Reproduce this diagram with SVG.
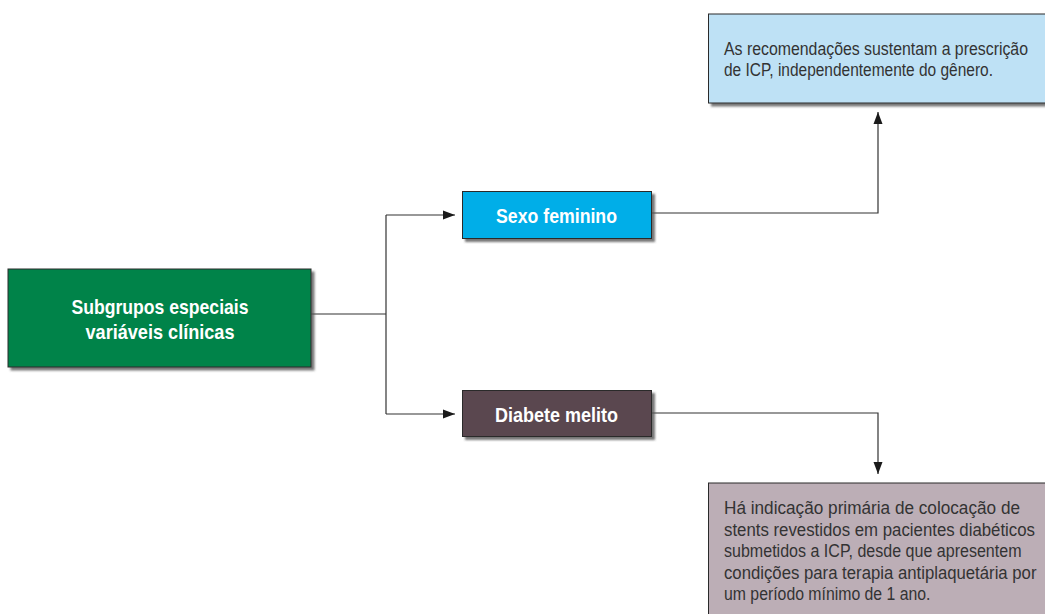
<svg xmlns="http://www.w3.org/2000/svg" width="1045" height="614" viewBox="0 0 1045 614">
<style>
.box{stroke:#2b2b2b;stroke-width:1;filter:url(#sh)}
.title{font-family:"Liberation Sans",Arial,sans-serif;font-weight:bold;font-size:21px;fill:#ffffff;text-anchor:middle}
.body{font-family:"Liberation Sans",Arial,sans-serif;font-size:17.5px;fill:#333333}
.conn{fill:none;stroke:#333333;stroke-width:1.2}
</style>
<defs>
<filter id="sh" x="-10%" y="-10%" width="130%" height="140%">
<feDropShadow dx="3" dy="3" stdDeviation="1.2" flood-color="#555555" flood-opacity="0.8"/>
</filter>
<marker id="arr" viewBox="0 0 12 10" refX="12" refY="5" markerWidth="12" markerHeight="10" markerUnits="userSpaceOnUse" orient="auto">
<path d="M0,0.5 L12,5 L0,9.5 Z" fill="#1a1a1a"/>
</marker>
</defs>
<rect width="1045" height="614" fill="#ffffff"/>
<g id="connectors">
<path class="conn" d="M311,314 H386"/>
<path class="conn" d="M386,215 V414"/>
<path class="conn" d="M386,215 H455" marker-end="url(#arr)"/>
<path class="conn" d="M386,414 H455" marker-end="url(#arr)"/>
<path class="conn" d="M651,213 H878 V112" marker-end="url(#arr)"/>
<path class="conn" d="M651,413 H878 V474" marker-end="url(#arr)"/>
</g>
<g id="node-subgrupos">
<rect class="box" x="8" y="269" width="303" height="98" fill="#00834A"/>
<text class="title" x="160" y="314" textLength="177" lengthAdjust="spacingAndGlyphs">Subgrupos especiais</text>
<text class="title" x="160" y="339" textLength="149" lengthAdjust="spacingAndGlyphs">variáveis clínicas</text>
</g>
<g id="node-sexo">
<rect class="box" x="462.5" y="191.5" width="189" height="47" fill="#00AEE8"/>
<text class="title" x="556.5" y="222.5" textLength="121" lengthAdjust="spacingAndGlyphs">Sexo feminino</text>
</g>
<g id="node-diabete">
<rect class="box" x="462.5" y="390.5" width="189" height="46" fill="#5A4650"/>
<text class="title" x="556.5" y="421.5" textLength="123" lengthAdjust="spacingAndGlyphs">Diabete melito</text>
</g>
<g id="node-recomendacoes">
<rect class="box" x="708.5" y="14" width="345" height="89" fill="#BEE1F5"/>
<text class="body" x="724" y="55" textLength="304" lengthAdjust="spacingAndGlyphs">As recomendações sustentam a prescrição</text>
<text class="body" x="724" y="76" textLength="269" lengthAdjust="spacingAndGlyphs">de ICP, independentemente do gênero.</text>
</g>
<g id="node-indicacao">
<rect class="box" x="708.5" y="483" width="345" height="140" fill="#BCAEB6"/>
<text class="body" x="724" y="514" textLength="296" lengthAdjust="spacingAndGlyphs">Há indicação primária de colocação de</text>
<text class="body" x="724" y="535.5" textLength="311" lengthAdjust="spacingAndGlyphs">stents revestidos em pacientes diabéticos</text>
<text class="body" x="724" y="557" textLength="297.5" lengthAdjust="spacingAndGlyphs">submetidos a ICP, desde que apresentem</text>
<text class="body" x="724" y="578.5" textLength="312.5" lengthAdjust="spacingAndGlyphs">condições para terapia antiplaquetária por</text>
<text class="body" x="724" y="600" textLength="206.5" lengthAdjust="spacingAndGlyphs">um período mínimo de 1 ano.</text>
</g>
</svg>
